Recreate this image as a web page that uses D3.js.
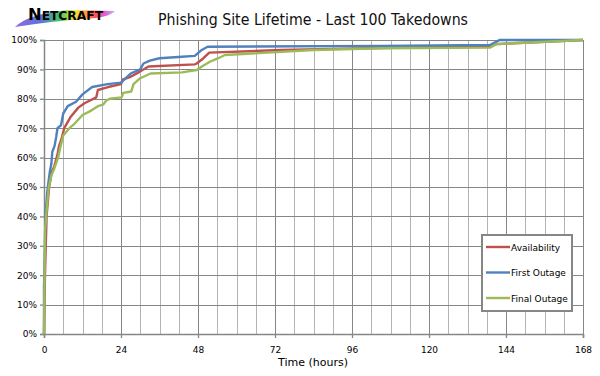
<!DOCTYPE html>
<html lang="en">
  <head>
    <meta charset="UTF-8" />
    <title>Phishing Site Lifetime</title>
    <style>
      body { margin: 0; background: #fff; }
      text { font-family: "DejaVu Sans", Verdana, sans-serif; }
      .line { fill: none; stroke-width: 2.4; stroke-linejoin: round; }
      .grid line { shape-rendering: crispEdges; }
    </style>
  </head>
  <body>
    <svg id="container" width="600" height="376"></svg>
  </body>
  <script src="https://cdn.jsdelivr.net/npm/d3@7"></script>
  <script>
    // data: [hours, percent]
    const availability = [
      [0, 0], [0.3, 20], [0.8, 40], [1.6, 50], [2.4, 55], [3.2, 57], [4.2, 61], [4.7, 64],
      [5.5, 66.5], [6.3, 70], [8.4, 74], [10.7, 77], [12.6, 78.5], [16.3, 80.5], [16.8, 83],
      [20, 84], [24, 85], [24.5, 86.5], [27, 87.5], [29.5, 89], [32.6, 91], [47, 91.7],
      [47.6, 92], [49.7, 93.8], [51.5, 95.7], [74, 96.6], [105, 97.3], [139, 97.9],
      [141, 98.6], [168, 100]
    ];
    const firstOutage = [
      [0, 0], [0, 16], [0.3, 30], [0.5, 41], [1, 48], [1.2, 50], [1.8, 55], [2.3, 58],
      [2.6, 62], [3.3, 64], [3.8, 67], [4.2, 70], [5.3, 71], [6, 75], [7.4, 77.5], [10, 79],
      [12, 81.5], [15, 84], [19.8, 85], [24, 85.5], [25, 86.5], [27, 88.6], [30, 90],
      [31, 92], [33, 93], [36, 93.8], [43, 94.3], [47, 94.6], [49, 96.5], [51, 97.7],
      [105, 98], [139, 98.3], [141.5, 99.7], [142, 100], [168, 100]
    ];
    const finalOutage = [
      [0, 0], [0.3, 35], [1, 44.5], [1.5, 50], [2.3, 54], [3.1, 56], [4.4, 60], [5.2, 64],
      [6, 67.5], [7.9, 70], [9.5, 71.5], [12, 74.5], [14.7, 76], [16.8, 77.5], [18.4, 78],
      [19.5, 79.5], [20.5, 80], [24.2, 80.5], [24.7, 82], [27.2, 82.5], [27.9, 85], [30, 87],
      [33.2, 88.6], [43, 89], [47.6, 89.8], [49.2, 91], [51.7, 92.6], [54.3, 93.8],
      [56.4, 94.9], [84, 96.6], [105, 97.2], [139, 97.4], [141, 98.6], [168, 100]
    ];
    const seriesNames = ["Availability", "First Outage", "Final Outage"];
    const seriesColors = ["#C0504D", "#4F81BD", "#9BBB59"];
    const xTicks = [0, 24, 48, 72, 96, 120, 144, 168];
    const yTicks = [0, 10, 20, 30, 40, 50, 60, 70, 80, 90, 100];

    let svg = d3.select("#container");
    let plotLeft = 44, plotTop = 40, plotWidth = 539, plotHeight = 294;

    let xScale = d3.scaleLinear().domain([0, 168]).range([plotLeft, plotLeft + plotWidth]);
    let yScale = d3.scaleLinear().domain([0, 100]).range([plotTop + plotHeight, plotTop]);

    // grid lines
    let grid = svg.append("g").attr("class", "grid");
    grid.selectAll(".vminor")
      .data(d3.range(6, 169, 6).filter((h) => h % 24 != 0))
      .join("line")
      .attr("x1", (d) => Math.round(xScale(d)) + 0.5).attr("x2", (d) => Math.round(xScale(d)) + 0.5)
      .attr("y1", plotTop).attr("y2", plotTop + plotHeight)
      .attr("stroke", "#b4b4b4");
    grid.selectAll(".vmajor")
      .data(xTicks.slice(1))
      .join("line")
      .attr("x1", (d) => Math.round(xScale(d)) + 0.5).attr("x2", (d) => Math.round(xScale(d)) + 0.5)
      .attr("y1", plotTop).attr("y2", plotTop + plotHeight)
      .attr("stroke", "#868686").attr("stroke-width", 1.3);
    grid.selectAll(".hline")
      .data(yTicks.slice(1))
      .join("line")
      .attr("x1", plotLeft).attr("x2", plotLeft + plotWidth)
      .attr("y1", (d) => Math.round(yScale(d)) + 0.5).attr("y2", (d) => Math.round(yScale(d)) + 0.5)
      .attr("stroke", "#868686").attr("stroke-width", 1.3);

    // axes
    let xAxis = svg.append("g")
      .attr("transform", "translate(0," + (plotTop + plotHeight) + ")")
      .call(d3.axisBottom(xScale).tickValues(xTicks).tickSize(4).tickPadding(9));
    let yAxis = svg.append("g")
      .attr("transform", "translate(" + plotLeft + ",0)")
      .call(d3.axisLeft(yScale).tickValues(yTicks).tickSize(4).tickPadding(3).tickFormat((d) => d + "%"));
    [xAxis, yAxis].forEach((a) => {
      a.select(".domain").attr("stroke", "#868686").attr("stroke-width", 1.5);
      a.selectAll(".tick line").attr("stroke", "#868686").attr("stroke-width", 1.3);
      a.selectAll("text").attr("font-family", "DejaVu Sans, sans-serif").attr("font-size", 9).attr("fill", "#000");
    });

    // lines
    let valueLine = d3.line().x((d) => xScale(d[0])).y((d) => yScale(d[1]));
    [availability, firstOutage, finalOutage].forEach((s, i) => {
      svg.append("path").datum(s).attr("class", "line")
        .attr("stroke", seriesColors[i]).attr("d", valueLine);
    });

    // axis title
    svg.append("text").attr("x", 313).attr("y", 366).attr("text-anchor", "middle")
      .attr("font-size", 11).attr("fill", "#000").text("Time (hours)");

    // chart title
    svg.append("text").attr("x", 313).attr("y", 25).attr("text-anchor", "middle")
      .attr("font-size", 15).attr("fill", "#111").attr("textLength", 310)
      .attr("lengthAdjust", "spacingAndGlyphs")
      .text("Phishing Site Lifetime - Last 100 Takedowns");

    // legend
    let legend = svg.append("g");
    legend.append("rect").attr("x", 482).attr("y", 235).attr("width", 90).attr("height", 76)
      .attr("fill", "#fff").attr("stroke", "#868686").attr("stroke-width", 2);
    seriesNames.forEach((name, i) => {
      let y = 247 + i * 25.5;
      legend.append("line").attr("x1", 486).attr("x2", 510).attr("y1", y).attr("y2", y)
        .attr("stroke", seriesColors[i]).attr("stroke-width", 2.4);
      legend.append("text").attr("x", 511).attr("y", y + 3.5).attr("font-size", 9)
        .attr("fill", "#000").text(name);
    });

    // netcraft logo
    let defs = svg.append("defs");
    let grad = defs.append("linearGradient").attr("id", "rainbow");
    [[0, "#8a5ad8"], [0.25, "#4a63d8"], [0.45, "#30c050"], [0.6, "#f2e324"],
     [0.7, "#ff9426"], [0.8, "#ff3a4a"], [0.9, "#e04cc8"], [1, "#a8b8ff"]].forEach((s) => {
      grad.append("stop").attr("offset", s[0]).attr("stop-color", s[1]);
    });
    svg.append("path")
      .attr("d", "M15,27 Q28,14 68,10 L115,11 Q111,16 96,18 Q52,21 15,27 Z")
      .attr("fill", "url(#rainbow)").attr("opacity", 0.9);
    let logo = svg.append("text").attr("x", 28).attr("y", 20).attr("font-weight", "bold")
      .attr("fill", "#000").attr("textLength", 75).attr("lengthAdjust", "spacingAndGlyphs");
    logo.append("tspan").attr("font-size", 16).text("N");
    logo.append("tspan").attr("font-size", 12).text("ETCRAFT");
  </script>
</html>
